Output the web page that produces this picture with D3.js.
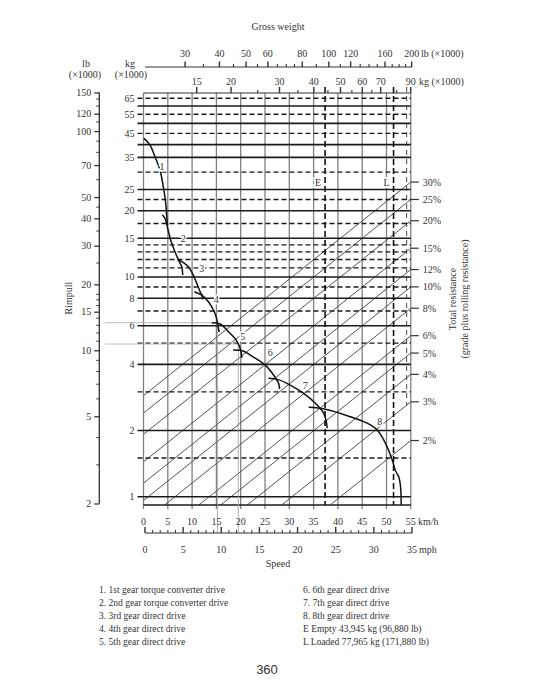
<!DOCTYPE html>
<html>
<head>
<meta charset="utf-8">
<script src="https://cdn.jsdelivr.net/npm/d3@7"></script>
<style>
body { margin: 0; background: #fff; }
svg text { font-family: "Liberation Serif", "DejaVu Serif", serif; fill: #333; font-size: 10px; }
</style>
</head>
<body>
<svg id="chart" width="535" height="700"></svg>
<script>
// speed axes
var kmhTicks = [0, 5, 10, 15, 20, 25, 30, 35, 40, 45, 50, 55];
var mphTicks = [0, 5, 10, 15, 20, 25, 30, 35];

// rimpull axes
var kgLabels = [65, 55, 45, 35, 25, 20, 15, 10, 8, 6, 4, 2, 1];
var kgSolid = [60, 50, 40, 35, 25, 20, 15, 10, 8, 6, 4, 2, 1];
var kgDashed = [65, 55, 45, 30, 22.5, 17.5, 14, 13, 12, 11, 9, 7, 5, 3, 1.5];
var lbLabels = [150, 120, 100, 70, 50, 40, 30, 20, 15, 10, 5, 2];
var lbMinor = [140, 130, 110, 90, 80, 60, 45, 35, 25, 18, 17, 16, 14, 13, 12, 11, 9, 8, 7, 6, 4, 3];

// gross weight axes
var weightLbLabels = [30, 40, 50, 60, 80, 100, 120, 160, 200];
var weightLbMinor = [35, 45, 55, 65, 70, 75, 90, 110, 130, 140, 150, 170, 180, 190];
var weightKgLabels = [15, 20, 30, 40, 50, 60, 70, 90];
var weightKgMinor = [25, 35, 45, 55, 65, 80];

// total resistance lines (%)
var resistance = [30, 25, 20, 15, 12, 10, 8, 6, 5, 4, 3, 2];

// gear curves: [speed km/h, rimpull kg x1000]
var gear1 = [[0.1, 42.7], [1.34, 39.8], [2.37, 35.2], [3.4, 30.6], [4.08, 25.7], [4.58, 21.6], [4.78, 18.8], [4.95, 17.2]];
var gear2 = [[3.9, 19.2], [4.5, 18.3], [4.9, 16.9], [5.61, 14.7], [6.49, 13.0], [7.38, 11.7], [7.88, 11.1], [8.08, 10.2]];
var gear3 = [[7.05, 11.94], [8.21, 11.63], [9.24, 11.13], [10.14, 10.3], [10.97, 9.35], [11.5, 8.72], [12.0, 8.27], [12.2, 7.9]];
var gear4 = [[10.47, 8.56], [12.0, 8.27], [13.36, 7.71], [14.39, 7.07], [14.95, 6.59], [15.22, 6.15], [15.57, 5.61]];
var gear5 = [[14.06, 6.19], [15.77, 6.11], [17.48, 5.63], [19.07, 5.16], [19.9, 4.73], [20.25, 4.28]];
var gear6 = [[18.45, 4.65], [20.5, 4.6], [21.96, 4.41], [25.05, 3.97], [26.76, 3.58], [27.8, 3.28], [28.0, 3.09]];
var gear7 = [[25.73, 3.46], [27.73, 3.41], [29.53, 3.28], [32.95, 2.95], [35.36, 2.66], [37.07, 2.40], [37.63, 2.19], [37.77, 2.05]];
var gear8 = [[33.98, 2.55], [37.42, 2.50], [42.58, 2.31], [46.02, 2.16], [48.08, 2.01], [49.79, 1.75], [51.18, 1.47], [51.86, 1.31], [52.54, 1.23], [52.89, 1.11], [53.03, 0.92]];
var gears = [gear1, gear2, gear3, gear4, gear5, gear6, gear7, gear8];
var gearLabels = [[3.8, 31.7], [8.2, 15.0], [12.0, 10.9], [14.95, 7.9], [20.4, 5.38], [26.1, 4.52], [33.3, 3.22], [48.6, 2.19]];

// weights (kg x1000)
var emptyWeight = 43.945;
var loadedWeight = 77.965;
var extraWeight = 87;
var readPoints = [[15.2, 6.19], [19.5, 4.95]];

var legendLeft = ["1. 1st gear torque converter drive", "2. 2nd gear torque converter drive", "3. 3rd gear direct drive", "4. 4th gear direct drive", "5. 5th gear direct drive"];
var legendRight = ["6. 6th gear direct drive", "7. 7th gear direct drive", "8. 8th gear direct drive", "E Empty 43,945 kg (96,880 lb)", "L Loaded 77,965 kg (171,880 lb)"];

var pLeft = 143.5, pRight = 410.8, pTop = 93, pBottom = 505;

var x = d3.scaleLinear().domain([0, 55]).range([pLeft, pRight]);
var xMph = d3.scaleLinear().domain([0, 35]).range([145, 412]);
var y = d3.scaleLog().domain([1, 65]).range([496.7, 98.3]);
var yLb = d3.scaleLog().domain([2, 150]).range([503.5, 92.5]);
var xW = d3.scaleLog().domain([15, 90]).range([196.7, 410.7]);

var svg = d3.select("#chart");

svg.append("defs").append("clipPath").attr("id", "plotclip")
  .append("rect").attr("x", pLeft).attr("y", pTop).attr("width", pRight - pLeft).attr("height", pBottom - pTop);

// vertical speed grid
svg.selectAll(".vgrid").data(kmhTicks).enter().append("line")
  .attr("class", "vgrid")
  .attr("x1", function(d) { return x(d); }).attr("x2", function(d) { return x(d); })
  .attr("y1", pTop).attr("y2", pBottom + 4)
  .style("stroke", "#808080").style("stroke-width", 1.3);

// resistance diagonals
var w0 = xW.invert(pLeft), w1 = xW.invert(pRight);
var diag = svg.append("g").attr("clip-path", "url(#plotclip)");
diag.selectAll("line").data(resistance).enter().append("line")
  .attr("x1", pLeft).attr("y1", function(d) { return y(d / 100 * w0); })
  .attr("x2", pRight).attr("y2", function(d) { return y(d / 100 * w1); })
  .style("stroke", "#4a4a4a").style("stroke-width", 0.95);

// horizontal kg grid
svg.selectAll(".hsolid").data(kgSolid).enter().append("line")
  .attr("class", "hsolid")
  .attr("x1", pLeft - 6).attr("x2", pRight)
  .attr("y1", function(d) { return y(d); }).attr("y2", function(d) { return y(d); })
  .style("stroke", "#1a1a1a").style("stroke-width", 1.6);
svg.selectAll(".hdash").data(kgDashed).enter().append("line")
  .attr("class", "hdash")
  .attr("x1", pLeft - 6).attr("x2", pRight)
  .attr("y1", function(d) { return y(d); }).attr("y2", function(d) { return y(d); })
  .style("stroke", "#1a1a1a").style("stroke-width", 1.4).style("stroke-dasharray", "5,3");

svg.selectAll(".kglab").data(kgLabels).enter().append("text")
  .attr("x", pLeft - 9).attr("y", function(d) { return y(d) + 3.5; })
  .attr("text-anchor", "end").text(function(d) { return d; });

// borders
svg.append("line").attr("x1", pLeft).attr("x2", pRight).attr("y1", pTop).attr("y2", pTop)
  .style("stroke", "#333").style("stroke-width", 1);
svg.append("line").attr("x1", pLeft).attr("x2", pRight).attr("y1", pBottom).attr("y2", pBottom)
  .style("stroke", "#1a1a1a").style("stroke-width", 1.6);

// reading lines
svg.selectAll(".readh").data(readPoints).enter().append("line")
  .attr("x1", 105).attr("x2", function(d) { return x(d[0]); })
  .attr("y1", function(d) { return y(d[1]); }).attr("y2", function(d) { return y(d[1]); })
  .style("stroke", "#aaa").style("stroke-width", 0.8);
svg.selectAll(".readv").data(readPoints).enter().append("line")
  .attr("x1", function(d) { return x(d[0]); }).attr("x2", function(d) { return x(d[0]); })
  .attr("y1", function(d) { return y(d[1]); }).attr("y2", 533)
  .style("stroke", "#999").style("stroke-width", 0.8);

// E, L weight lines
svg.selectAll(".wline").data([emptyWeight, loadedWeight]).enter().append("line")
  .attr("x1", function(d) { return xW(d); }).attr("x2", function(d) { return xW(d); })
  .attr("y1", pTop - 6).attr("y2", pBottom)
  .style("stroke", "#111").style("stroke-width", 1.6).style("stroke-dasharray", "6,3");
svg.append("line")
  .attr("x1", xW(extraWeight)).attr("x2", xW(extraWeight))
  .attr("y1", pTop - 6).attr("y2", y(0.03 * extraWeight))
  .style("stroke", "#333").style("stroke-width", 0.9).style("stroke-dasharray", "5,4");
svg.selectAll(".wlab").data([["E", emptyWeight], ["L", loadedWeight]]).enter().append("text")
  .attr("x", function(d) { return xW(d[1]) - 7; }).attr("y", y(27) + 4)
  .attr("text-anchor", "middle")
  .style("stroke", "#fff").style("stroke-width", 4).style("paint-order", "stroke")
  .text(function(d) { return d[0]; });

// gear curves
var line = d3.line()
  .x(function(d) { return x(d[0]); })
  .y(function(d) { return y(d[1]); })
  .curve(d3.curveCatmullRom);
svg.selectAll(".gear").data(gears).enter().append("path")
  .attr("class", "gear")
  .attr("d", line)
  .style("fill", "none").style("stroke", "#111").style("stroke-width", 1.5);
svg.selectAll(".glab").data(gearLabels).enter().append("text")
  .attr("x", function(d) { return x(d[0]); }).attr("y", function(d) { return y(d[1]) + 3.5; })
  .attr("text-anchor", "middle")
  .style("stroke", "#fff").style("stroke-width", 3).style("paint-order", "stroke")
  .text(function(d, i) { return i + 1; });

// resistance ticks and labels on right
svg.selectAll(".rtick").data(resistance).enter().append("line")
  .attr("x1", pRight).attr("x2", pRight + 8)
  .attr("y1", function(d) { return y(d / 100 * w1); }).attr("y2", function(d) { return y(d / 100 * w1); })
  .style("stroke", "#333").style("stroke-width", 1.2);
svg.selectAll(".rlab").data(resistance).enter().append("text")
  .attr("x", pRight + 12).attr("y", function(d) { return y(d / 100 * w1) + 3.5; })
  .text(function(d) { return d + "%"; });

svg.append("text").attr("transform", "translate(456,299) rotate(-90)")
  .attr("text-anchor", "middle").text("Total resistance");
svg.append("text").attr("transform", "translate(468,299) rotate(-90)")
  .attr("text-anchor", "middle").text("(grade plus rolling resistance)");

// left lb axis
svg.append("g").attr("transform", "translate(99.3,0)")
  .call(d3.axisLeft(yLb).tickValues(lbLabels).tickFormat(d3.format("d")).tickSize(5).tickPadding(3))
  .call(function(g) { g.select(".domain").attr("d", "M0," + yLb(150) + "V" + yLb(2)).style("stroke", "#333").style("stroke-width", 1.3); })
  .call(function(g) { g.selectAll(".tick line").style("stroke", "#333").style("stroke-width", 1.3); })
  .attr("font-family", null).attr("font-size", null);
svg.selectAll(".lbminor").data(lbMinor).enter().append("line")
  .attr("x1", 96.3).attr("x2", 99.3)
  .attr("y1", function(d) { return yLb(d); }).attr("y2", function(d) { return yLb(d); })
  .style("stroke", "#333").style("stroke-width", 1);

svg.append("text").attr("transform", "translate(68,298) rotate(-90)")
  .attr("text-anchor", "middle").attr("dy", "0.35em").text("Rimpull");

// top weight axes
svg.append("text").attr("x", 278).attr("y", 30).attr("text-anchor", "middle").text("Gross weight");
svg.append("line").attr("x1", 145).attr("x2", 412).attr("y1", 67).attr("y2", 67)
  .style("stroke", "#333").style("stroke-width", 1);
svg.selectAll(".wlbtick").data(weightLbLabels).enter().append("line")
  .attr("x1", function(d) { return xW(d / 2.2046); }).attr("x2", function(d) { return xW(d / 2.2046); })
  .attr("y1", 67).attr("y2", 61.5)
  .style("stroke", "#333").style("stroke-width", 1.4);
svg.selectAll(".wlbminor").data(weightLbMinor).enter().append("line")
  .attr("x1", function(d) { return xW(d / 2.2046); }).attr("x2", function(d) { return xW(d / 2.2046); })
  .attr("y1", 67).attr("y2", 64)
  .style("stroke", "#333").style("stroke-width", 1.1);
svg.selectAll(".wlblab").data(weightLbLabels).enter().append("text")
  .attr("x", function(d) { return xW(d / 2.2046); }).attr("y", 57)
  .attr("text-anchor", "middle").text(function(d) { return d; });
svg.append("text").attr("x", 421).attr("y", 57).text("lb (\u00d71000)");

svg.selectAll(".wkgtick").data(weightKgLabels).enter().append("line")
  .attr("x1", function(d) { return xW(d); }).attr("x2", function(d) { return xW(d); })
  .attr("y1", pTop).attr("y2", pTop - 6)
  .style("stroke", "#333").style("stroke-width", 1.4);
svg.selectAll(".wkgminor").data(weightKgMinor).enter().append("line")
  .attr("x1", function(d) { return xW(d); }).attr("x2", function(d) { return xW(d); })
  .attr("y1", pTop).attr("y2", pTop - 3)
  .style("stroke", "#333").style("stroke-width", 1.1);
svg.selectAll(".wkglab").data(weightKgLabels).enter().append("text")
  .attr("x", function(d) { return xW(d); }).attr("y", 84.5)
  .attr("text-anchor", "middle").text(function(d) { return d; });
svg.append("text").attr("x", 419).attr("y", 84.5).text("kg (\u00d71000)");

svg.append("text").attr("x", 86).attr("y", 66.5).attr("text-anchor", "middle").text("lb");
svg.append("text").attr("x", 85).attr("y", 78).attr("text-anchor", "middle").text("(\u00d71000)");
svg.append("text").attr("x", 130).attr("y", 66.5).attr("text-anchor", "middle").text("kg");
svg.append("text").attr("x", 131).attr("y", 78).attr("text-anchor", "middle").text("(\u00d71000)");

// bottom speed axes
svg.selectAll(".kmhlab").data(kmhTicks).enter().append("text")
  .attr("x", function(d) { return x(d); }).attr("y", 524.5)
  .attr("text-anchor", "middle").text(function(d) { return d; });
svg.append("text").attr("x", 418).attr("y", 524.5).text("km/h");

svg.append("line").attr("x1", xMph(0)).attr("x2", xMph(35)).attr("y1", 533).attr("y2", 533)
  .style("stroke", "#333").style("stroke-width", 1.2);
svg.selectAll(".mphminor").data(d3.range(0, 36)).enter().append("line")
  .attr("x1", function(d) { return xMph(d); }).attr("x2", function(d) { return xMph(d); })
  .attr("y1", 533).attr("y2", function(d) { return d % 5 === 0 ? 527 : 530; })
  .style("stroke", "#333").style("stroke-width", function(d) { return d % 5 === 0 ? 1.4 : 1; });
svg.selectAll(".mphlab").data(mphTicks).enter().append("text")
  .attr("x", function(d) { return xMph(d); }).attr("y", 552.5)
  .attr("text-anchor", "middle").text(function(d) { return d; });
svg.append("text").attr("x", 419).attr("y", 552.5).text("mph");
svg.append("text").attr("x", 278).attr("y", 567).attr("text-anchor", "middle").text("Speed");

// legend
svg.selectAll(".legl").data(legendLeft).enter().append("text")
  .attr("x", 99).attr("y", function(d, i) { return 593 + i * 13; })
  .style("font-size", "9.5px").text(function(d) { return d; });
svg.selectAll(".legr").data(legendRight).enter().append("text")
  .attr("x", 303).attr("y", function(d, i) { return 593 + i * 13; })
  .style("font-size", "9.5px").text(function(d) { return d; });

svg.append("text").attr("x", 267).attr("y", 674).attr("text-anchor", "middle")
  .style("font-family", "'Liberation Sans', Arial, sans-serif").style("font-size", "13px")
  .text("360");
</script>
</body>
</html>
